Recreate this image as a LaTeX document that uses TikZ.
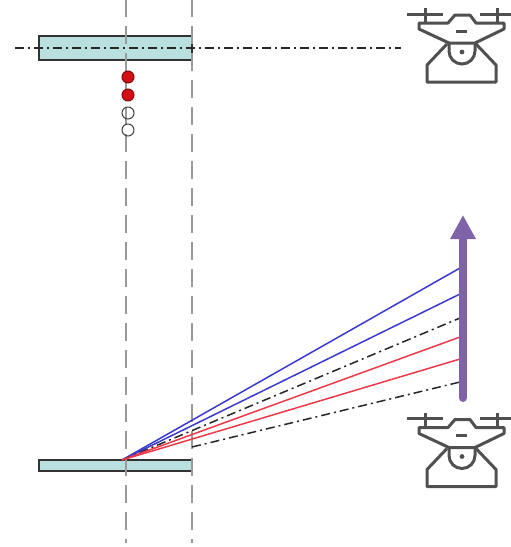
\documentclass[tikz,border=0pt]{standalone}
\usepackage{xcolor}
\usepackage{tikz}
\usetikzlibrary{arrows.meta,positioning}

\definecolor{platefill}{HTML}{B9DFDF}
\definecolor{beamgrey}{HTML}{9A9A9A}
\definecolor{dronegrey}{HTML}{505050}
\definecolor{pathviolet}{HTML}{7F63A8}
\definecolor{rayblue}{HTML}{3A3AD0}
\definecolor{rayred}{HTML}{EE3A48}
\definecolor{dotred}{HTML}{D40F14}

\tikzset{
  drone/.pic={
    \draw[dronebody] (-55,-34) -- (-19,-34);
    \draw[dronebody] (18,-34) -- (49,-34);
    \draw[dronebody] (-37,-40) -- (-37,-26);
    \draw[dronebody] (35,-40) -- (35,-26);
    \draw[dronebody, line join=round] (-43,-25) -- (-14,-25) -- (-7,-33) -- (8,-33) -- (14,-25)
      -- (42,-25) -- (42,-19) -- (13,-5) -- (-13,-5) -- (-43,-19) -- cycle;
    \draw[dronebody] (-6,-17) -- (5,-17);
    \draw[dronebody] (-13,-5) -- (-13,3) arc[start angle=180, end angle=0, radius=13] -- (13,-5);
    \fill[dronegrey] (0,4) circle (2.4);
    \draw[dronebody, line join=round] (-15,-4) -- (-35,17) -- (-35,34) -- (34,34) -- (34,17) -- (14,-4);
  }
}

\begin{document}
\begin{tikzpicture}[
    x=1pt, y=-1pt,
    plate/.style={draw=black!80, fill=platefill, line width=1.4pt, minimum width=153pt,
                  inner sep=0pt, outer sep=0pt},
    guide/.style={draw=beamgrey, line width=2.4pt, dash pattern=on 18pt off 9pt},
    axisline/.style={draw=black!85, line width=1.5pt, dash pattern=on 9pt off 4pt on 2pt off 4pt},
    bluray/.style={draw=rayblue, line width=1.5pt},
    redray/.style={draw=rayred, line width=1.5pt},
    hole/.style={circle, draw=black!75, line width=1pt, minimum size=12pt, inner sep=0pt},
    hit/.style={hole, fill=dotred, draw=black!40!dotred},
    dronebody/.style={draw=dronegrey, line width=3pt},
    track/.style={draw=pathviolet, fill=pathviolet, line width=8pt, line cap=round,
                  -{Triangle[length=24pt, width=24pt]}}
  ]
  \useasboundingbox (0,0) rectangle (511,547);

  % plates
  \node[plate, minimum height=24pt] (topplate) at (115.5,48) {};
  \node[plate, minimum height=11pt] (botplate) at (115.5,465.5) {};

  % guide lines
  \coordinate (guideAa) at (126,-1);
  \coordinate (guideAb) at (126,543);
  \coordinate (guideBa) at (192,-1);
  \coordinate (guideBb) at (192,543);
  \draw[guide] (guideAa) -- (guideAb);
  \draw[guide] (guideBa) -- (guideBb);

  % axis of the upper plate
  \coordinate (axisL) at (15,48);
  \coordinate (axisR) at (401,48);
  \draw[axisline] (axisL) -- (axisR);

  % dots
  \node[hit]  (dotA) at (128,77)  {};
  \node[hit]  (dotB) at (128,95)  {};
  \node[hole] (dotC) at (128,113) {};
  \node[hole] (dotD) at (128,130) {};

  % rays
  \coordinate (src) at (122,460);
  \coordinate (rayA) at (460,268);
  \coordinate (rayB) at (460,294);
  \coordinate (rayC) at (460,318);
  \coordinate (rayD) at (460,337);
  \coordinate (rayE) at (460,359);
  \coordinate (rayF) at (460,382);
  \coordinate (rayFs) at (192,447);
  \draw[bluray] (src) -- (rayA);
  \draw[bluray] (src) -- (rayB);
  \draw[axisline] (src) -- (rayC);
  \draw[redray] (src) -- (rayD);
  \draw[redray] (src) -- (rayE);
  \draw[axisline] (rayFs) -- (rayF);

  % flight path
  \coordinate (trackS) at (463,398);
  \coordinate (trackE) at (463,215);
  \draw[track] (trackS) -- (trackE);

  % drones
  \pic at (462,48) {drone};
  \pic at (462,452.5) {drone};
\end{tikzpicture}
\end{document}
